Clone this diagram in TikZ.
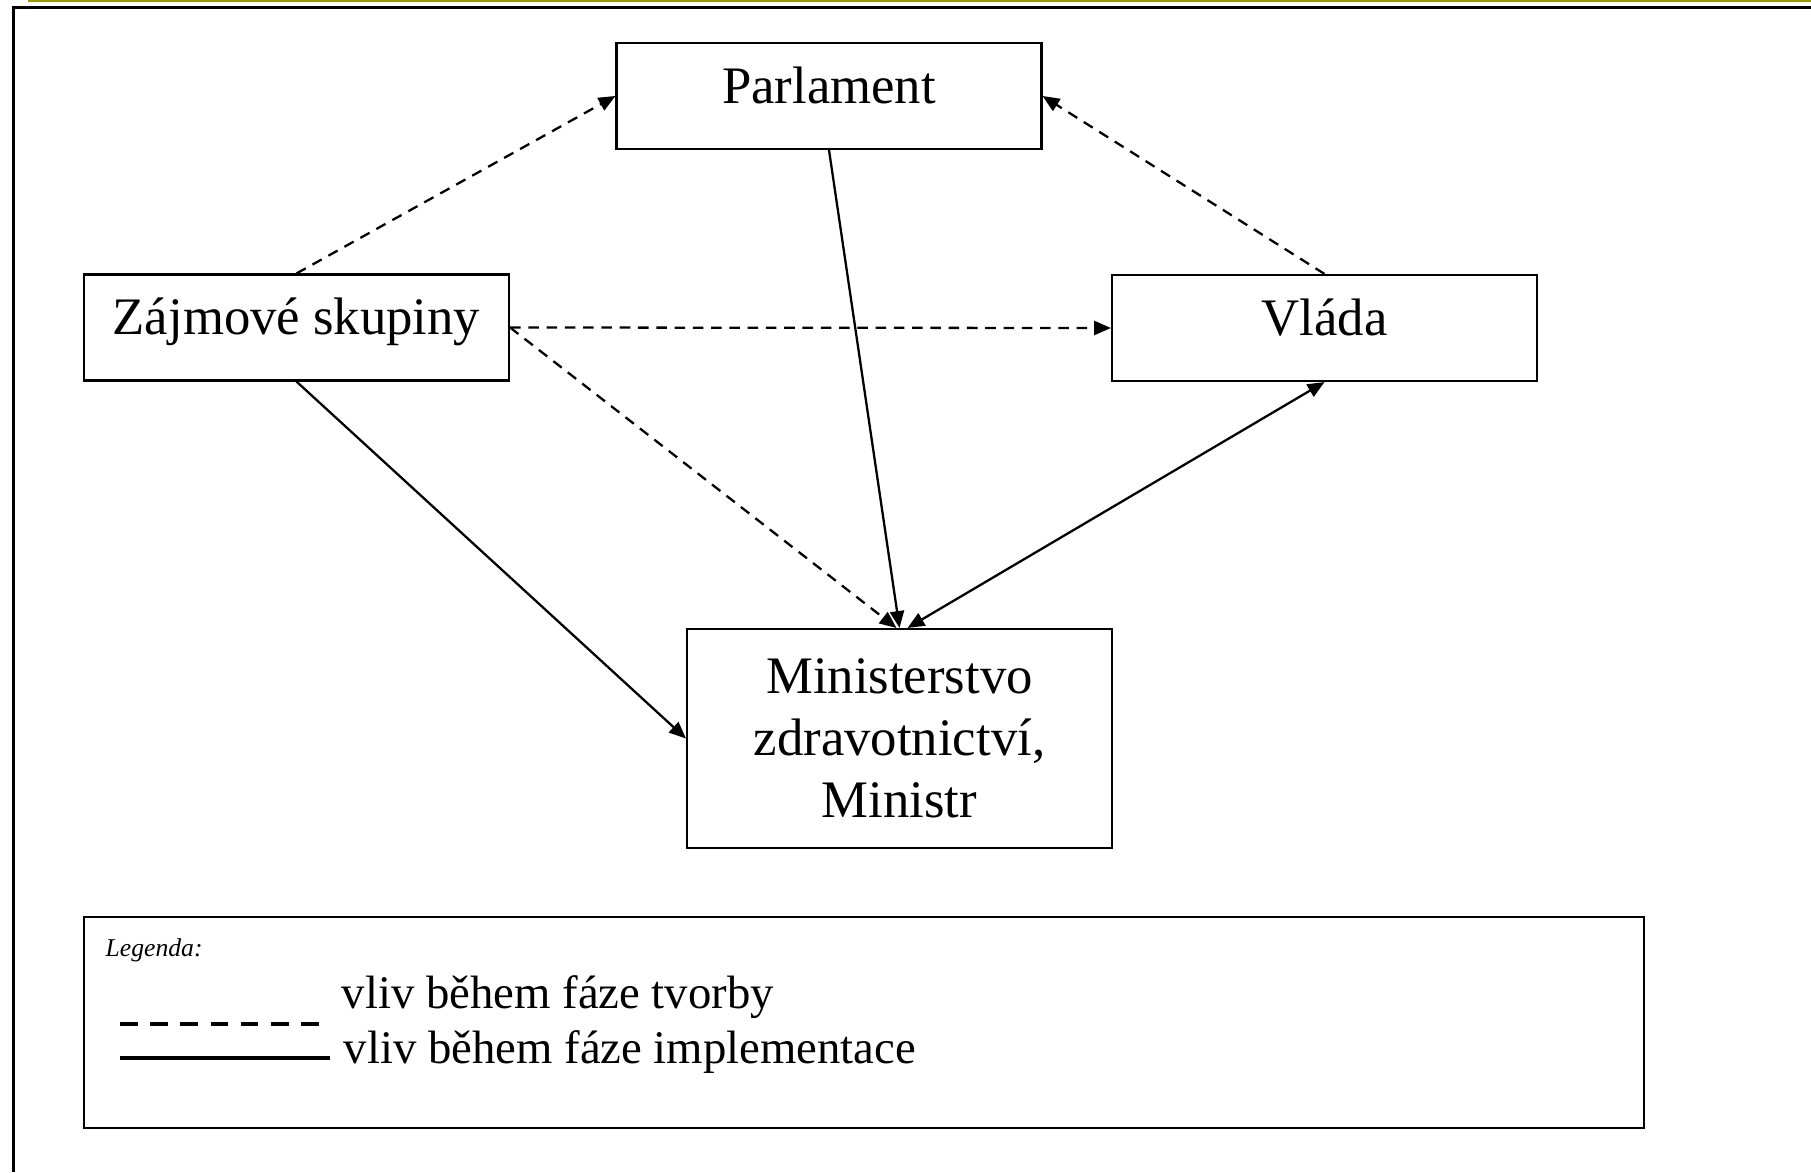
\documentclass[tikz,border=0pt]{standalone}
\usepackage{fontspec}
\setmainfont{Liberation Serif}
\usetikzlibrary{arrows.meta}
\definecolor{olivebar}{RGB}{153,153,0}

\begin{document}
\begin{tikzpicture}[>={Triangle[length=4.8pt,width=4pt]},
    actor/.style = {draw, line width=0.6pt, minimum width=4.25cm,
      inner sep=0pt, align=center, font=\fontsize{15}{17.6}\selectfont},
    oneline/.style = {minimum height=1.06cm, text height=0.7em, text depth=0.3em},
    tvorba/.style = {->, line width=0.65pt, dash pattern=on 3pt off 2.2pt},
    impl/.style = {->, line width=0.65pt},
    legtext/.style = {anchor=base west, inner sep=0pt,
      font=\fontsize{13.3}{16}\selectfont}
  ]
  \useasboundingbox (0,0) rectangle (18.11,-11.72);
  % frame of the page
  \fill[olivebar] (0.28,0) rectangle (18.11,-0.025);
  \draw[line width=0.85pt] (0.138,-11.72) -- (0.138,-0.075) -- (18.11,-0.075);

  % actors
  \node[actor,oneline] (parl) at (8.29,-0.96) {Parlament};
  \node[actor,oneline] (zajm) at (2.965,-3.275) {Zájmové skupiny};
  \node[actor,oneline] (vlada) at (13.245,-3.28) {Vláda};
  \node[actor,minimum height=2.19cm] (min) at (8.995,-7.385)
    {Ministerstvo\\zdravotnictví,\\Ministr};

  % influences
  \draw[tvorba] (zajm.north) -- (parl.west);
  \draw[tvorba] (vlada.north) -- (parl.east);
  \draw[tvorba] (zajm.east) -- (vlada.west);
  \draw[tvorba] (zajm.east) -- ([xshift=-0.03cm]min.north);
  \draw[impl] (parl.south) -- (min.north);
  \draw[impl] (zajm.south) -- (min.west);
  \draw[impl,<->] (vlada.south) -- ([xshift=0.08cm]min.north);

  % legend
  \node[draw, line width=0.7pt, minimum width=15.6cm, minimum height=2.11cm,
    inner sep=0pt] (legbox) at (8.64,-10.225) {};
  \node[anchor=base west, inner sep=0pt,
    font=\fontsize{7.3}{9}\selectfont\itshape] (legtitle) at (1.05,-9.56) {Legenda:};
  \coordinate (d1) at (1.20,-10.24);
  \coordinate (d2) at (3.21,-10.24);
  \coordinate (s1) at (1.20,-10.58);
  \coordinate (s2) at (3.30,-10.58);
  \draw[line width=1pt, dash pattern=on 5pt off 3.6pt] (d1) -- (d2);
  \draw[line width=1.1pt] (s1) -- (s2);
  \node[legtext] (tvorbytext) at (3.41,-10.08) {vliv během fáze tvorby};
  \node[legtext] (impltext) at (3.43,-10.63) {vliv během fáze implementace};
\end{tikzpicture}
\end{document}
